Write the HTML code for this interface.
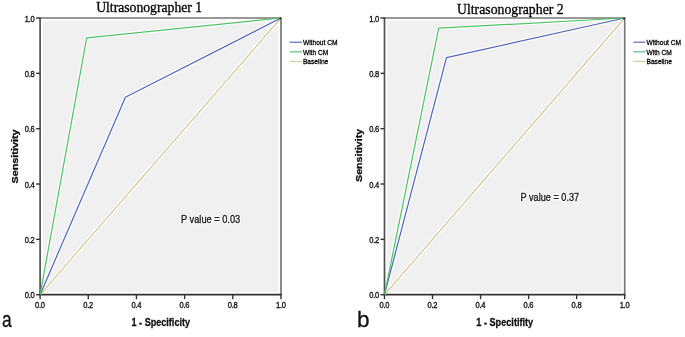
<!DOCTYPE html>
<html><head><meta charset="utf-8"><style>
html,body{margin:0;padding:0;background:#fff;}
body{width:685px;height:337px;overflow:hidden;position:relative;}
svg{display:block;position:absolute;left:0;top:0;}
#m{filter:blur(0.35px);}
#t{filter:blur(0.15px);}
text{font-family:"Liberation Sans",sans-serif;}
.tk{fill:#111;stroke:#111;stroke-width:0.35px;}
.ti{font-family:"Liberation Serif",serif;fill:#000;stroke:#000;stroke-width:0.3px;}
.ax{font-weight:bold;fill:#111;stroke:#111;stroke-width:0.3px;}
.pv{fill:#222;stroke:#222;stroke-width:0.35px;}
.lg{fill:#000;stroke:#000;stroke-width:0.3px;}
.let{fill:#111;stroke:#111;stroke-width:0.3px;}
.pvh{fill:#fff;stroke:#fff;stroke-width:2.6px;stroke-linejoin:round;opacity:1.0;}
</style></head><body>
<svg id="m" width="685" height="337" viewBox="0 0 685 337">
<rect width="685" height="337" fill="#fff"/>
<rect x="42.800000000000004" y="20.7" width="235.50" height="271.30" fill="#f0f0f0"/>
<polyline points="40.1,294.7 281.0,18.0" fill="none" stroke="#fff" stroke-opacity="0.9" stroke-width="3.7" stroke-linejoin="round"/>
<polyline points="40.1,294.7 125.4,97.3 281.0,18.0" fill="none" stroke="#fff" stroke-opacity="0.9" stroke-width="3.65" stroke-linejoin="round"/>
<polyline points="40.1,294.7 86.7,37.8 281.0,18.0" fill="none" stroke="#fff" stroke-opacity="0.9" stroke-width="3.65" stroke-linejoin="round"/>
<line x1="40.1" y1="18.0" x2="281.0" y2="18.0" stroke="#777" stroke-width="1.7"/>
<line x1="281.0" y1="17.15" x2="281.0" y2="294.7" stroke="#777" stroke-width="1.7"/>
<line x1="39.25" y1="294.7" x2="281.85" y2="294.7" stroke="#333" stroke-width="1.7"/>
<line x1="40.1" y1="17.15" x2="40.1" y2="294.7" stroke="#505050" stroke-width="1.7"/>
<polyline points="40.1,294.7 281.0,18.0" fill="none" stroke="#d3ce97" stroke-width="1.3" stroke-linejoin="round"/>
<polyline points="40.1,294.7 125.4,97.3 281.0,18.0" fill="none" stroke="#5068bc" stroke-width="1.25" stroke-linejoin="round"/>
<polyline points="40.1,294.7 86.7,37.8 281.0,18.0" fill="none" stroke="#50c266" stroke-width="1.25" stroke-linejoin="round"/>
<circle cx="280.4" cy="18.4" r="1.0" fill="#1a2a1a"/>
<line x1="36.1" y1="294.70" x2="40.1" y2="294.70" stroke="#333" stroke-width="1.4"/>
<line x1="40.10" y1="294.7" x2="40.10" y2="299.2" stroke="#333" stroke-width="1.4"/>
<line x1="36.1" y1="239.36" x2="40.1" y2="239.36" stroke="#333" stroke-width="1.4"/>
<line x1="88.28" y1="294.7" x2="88.28" y2="299.2" stroke="#333" stroke-width="1.4"/>
<line x1="36.1" y1="184.02" x2="40.1" y2="184.02" stroke="#333" stroke-width="1.4"/>
<line x1="136.46" y1="294.7" x2="136.46" y2="299.2" stroke="#333" stroke-width="1.4"/>
<line x1="36.1" y1="128.68" x2="40.1" y2="128.68" stroke="#333" stroke-width="1.4"/>
<line x1="184.64" y1="294.7" x2="184.64" y2="299.2" stroke="#333" stroke-width="1.4"/>
<line x1="36.1" y1="73.34" x2="40.1" y2="73.34" stroke="#333" stroke-width="1.4"/>
<line x1="232.82" y1="294.7" x2="232.82" y2="299.2" stroke="#333" stroke-width="1.4"/>
<line x1="36.1" y1="18.00" x2="40.1" y2="18.00" stroke="#333" stroke-width="1.4"/>
<line x1="281.00" y1="294.7" x2="281.00" y2="299.2" stroke="#333" stroke-width="1.4"/>
<line x1="289.7" y1="42.20" x2="302.0" y2="42.20" stroke="#5068bc" stroke-width="1.15"/>
<line x1="289.7" y1="51.80" x2="302.0" y2="51.80" stroke="#50c266" stroke-width="1.15"/>
<line x1="289.7" y1="61.40" x2="302.0" y2="61.40" stroke="#d3ce97" stroke-width="1.15"/>
<rect x="387.2" y="20.7" width="234.80" height="271.30" fill="#f0f0f0"/>
<polyline points="384.5,294.7 624.7,18.0" fill="none" stroke="#fff" stroke-opacity="0.9" stroke-width="3.7" stroke-linejoin="round"/>
<polyline points="384.5,294.7 446.5,57.6 624.7,18.0" fill="none" stroke="#fff" stroke-opacity="0.9" stroke-width="3.65" stroke-linejoin="round"/>
<polyline points="384.5,294.7 438.7,28.2 624.7,18.0" fill="none" stroke="#fff" stroke-opacity="0.9" stroke-width="3.65" stroke-linejoin="round"/>
<line x1="384.5" y1="18.0" x2="624.7" y2="18.0" stroke="#777" stroke-width="1.7"/>
<line x1="624.7" y1="17.15" x2="624.7" y2="294.7" stroke="#777" stroke-width="1.7"/>
<line x1="383.65" y1="294.7" x2="625.5500000000001" y2="294.7" stroke="#333" stroke-width="1.7"/>
<line x1="384.5" y1="17.15" x2="384.5" y2="294.7" stroke="#505050" stroke-width="1.7"/>
<polyline points="384.5,294.7 624.7,18.0" fill="none" stroke="#d3ce97" stroke-width="1.3" stroke-linejoin="round"/>
<polyline points="384.5,294.7 446.5,57.6 624.7,18.0" fill="none" stroke="#5068bc" stroke-width="1.25" stroke-linejoin="round"/>
<polyline points="384.5,294.7 438.7,28.2 624.7,18.0" fill="none" stroke="#50c266" stroke-width="1.25" stroke-linejoin="round"/>
<circle cx="624.1" cy="18.4" r="1.0" fill="#1a2a1a"/>
<line x1="380.5" y1="294.70" x2="384.5" y2="294.70" stroke="#333" stroke-width="1.4"/>
<line x1="384.50" y1="294.7" x2="384.50" y2="299.2" stroke="#333" stroke-width="1.4"/>
<line x1="380.5" y1="239.36" x2="384.5" y2="239.36" stroke="#333" stroke-width="1.4"/>
<line x1="432.54" y1="294.7" x2="432.54" y2="299.2" stroke="#333" stroke-width="1.4"/>
<line x1="380.5" y1="184.02" x2="384.5" y2="184.02" stroke="#333" stroke-width="1.4"/>
<line x1="480.58" y1="294.7" x2="480.58" y2="299.2" stroke="#333" stroke-width="1.4"/>
<line x1="380.5" y1="128.68" x2="384.5" y2="128.68" stroke="#333" stroke-width="1.4"/>
<line x1="528.62" y1="294.7" x2="528.62" y2="299.2" stroke="#333" stroke-width="1.4"/>
<line x1="380.5" y1="73.34" x2="384.5" y2="73.34" stroke="#333" stroke-width="1.4"/>
<line x1="576.66" y1="294.7" x2="576.66" y2="299.2" stroke="#333" stroke-width="1.4"/>
<line x1="380.5" y1="18.00" x2="384.5" y2="18.00" stroke="#333" stroke-width="1.4"/>
<line x1="624.70" y1="294.7" x2="624.70" y2="299.2" stroke="#333" stroke-width="1.4"/>
<line x1="633.3" y1="42.20" x2="645.5999999999999" y2="42.20" stroke="#5068bc" stroke-width="1.15"/>
<line x1="633.3" y1="51.80" x2="645.5999999999999" y2="51.80" stroke="#50c266" stroke-width="1.15"/>
<line x1="633.3" y1="61.40" x2="645.5999999999999" y2="61.40" stroke="#d3ce97" stroke-width="1.15"/>
<text transform="translate(34.55,298.20) scale(0.84,1)" class="tk" text-anchor="end" style="font-size:9.0px;letter-spacing:-0.3px">0.0</text>
<text transform="translate(39.90,307.60) scale(0.84,1)" class="tk" text-anchor="middle" style="font-size:9.0px;letter-spacing:-0.3px">0.0</text>
<text transform="translate(34.55,242.86) scale(0.84,1)" class="tk" text-anchor="end" style="font-size:9.0px;letter-spacing:-0.3px">0.2</text>
<text transform="translate(88.08,307.60) scale(0.84,1)" class="tk" text-anchor="middle" style="font-size:9.0px;letter-spacing:-0.3px">0.2</text>
<text transform="translate(34.55,187.52) scale(0.84,1)" class="tk" text-anchor="end" style="font-size:9.0px;letter-spacing:-0.3px">0.4</text>
<text transform="translate(136.26,307.60) scale(0.84,1)" class="tk" text-anchor="middle" style="font-size:9.0px;letter-spacing:-0.3px">0.4</text>
<text transform="translate(34.55,132.18) scale(0.84,1)" class="tk" text-anchor="end" style="font-size:9.0px;letter-spacing:-0.3px">0.6</text>
<text transform="translate(184.44,307.60) scale(0.84,1)" class="tk" text-anchor="middle" style="font-size:9.0px;letter-spacing:-0.3px">0.6</text>
<text transform="translate(34.55,76.84) scale(0.84,1)" class="tk" text-anchor="end" style="font-size:9.0px;letter-spacing:-0.3px">0.8</text>
<text transform="translate(232.62,307.60) scale(0.84,1)" class="tk" text-anchor="middle" style="font-size:9.0px;letter-spacing:-0.3px">0.8</text>
<text transform="translate(34.55,21.50) scale(0.84,1)" class="tk" text-anchor="end" style="font-size:9.0px;letter-spacing:-0.3px">1.0</text>
<text transform="translate(280.80,307.60) scale(0.84,1)" class="tk" text-anchor="middle" style="font-size:9.0px;letter-spacing:-0.3px">1.0</text>
<text transform="translate(302.90,45.10) scale(0.819,1)" class="lg" style="font-size:8.1px">Without CM</text>
<text transform="translate(302.90,54.70) scale(0.819,1)" class="lg" style="font-size:8.1px">With CM</text>
<text transform="translate(302.90,64.30) scale(0.819,1)" class="lg" style="font-size:8.1px">Baseline</text>
<text transform="translate(378.95,298.20) scale(0.84,1)" class="tk" text-anchor="end" style="font-size:9.0px;letter-spacing:-0.3px">0.0</text>
<text transform="translate(384.30,307.60) scale(0.84,1)" class="tk" text-anchor="middle" style="font-size:9.0px;letter-spacing:-0.3px">0.0</text>
<text transform="translate(378.95,242.86) scale(0.84,1)" class="tk" text-anchor="end" style="font-size:9.0px;letter-spacing:-0.3px">0.2</text>
<text transform="translate(432.34,307.60) scale(0.84,1)" class="tk" text-anchor="middle" style="font-size:9.0px;letter-spacing:-0.3px">0.2</text>
<text transform="translate(378.95,187.52) scale(0.84,1)" class="tk" text-anchor="end" style="font-size:9.0px;letter-spacing:-0.3px">0.4</text>
<text transform="translate(480.38,307.60) scale(0.84,1)" class="tk" text-anchor="middle" style="font-size:9.0px;letter-spacing:-0.3px">0.4</text>
<text transform="translate(378.95,132.18) scale(0.84,1)" class="tk" text-anchor="end" style="font-size:9.0px;letter-spacing:-0.3px">0.6</text>
<text transform="translate(528.42,307.60) scale(0.84,1)" class="tk" text-anchor="middle" style="font-size:9.0px;letter-spacing:-0.3px">0.6</text>
<text transform="translate(378.95,76.84) scale(0.84,1)" class="tk" text-anchor="end" style="font-size:9.0px;letter-spacing:-0.3px">0.8</text>
<text transform="translate(576.46,307.60) scale(0.84,1)" class="tk" text-anchor="middle" style="font-size:9.0px;letter-spacing:-0.3px">0.8</text>
<text transform="translate(378.95,21.50) scale(0.84,1)" class="tk" text-anchor="end" style="font-size:9.0px;letter-spacing:-0.3px">1.0</text>
<text transform="translate(624.50,307.60) scale(0.84,1)" class="tk" text-anchor="middle" style="font-size:9.0px;letter-spacing:-0.3px">1.0</text>
<text transform="translate(646.50,45.10) scale(0.819,1)" class="lg" style="font-size:8.1px">Without CM</text>
<text transform="translate(646.50,54.70) scale(0.819,1)" class="lg" style="font-size:8.1px">With CM</text>
<text transform="translate(646.50,64.30) scale(0.819,1)" class="lg" style="font-size:8.1px">Baseline</text>
<text transform="translate(18.40,183.60) rotate(-90) scale(1.1553,1)" class="ax" style="font-size:9.4px">Sensitivity</text>
<text transform="translate(362.25,181.90) rotate(-90) scale(1.1295,1)" class="ax" style="font-size:9.4px">Sensitivity</text>
<text transform="translate(131.52,325.56) scale(0.8413,1)" class="ax" style="font-size:10.8px">1 - Specificity</text>
<text transform="translate(476.25,325.61) scale(0.8486,1)" class="ax" style="font-size:10.8px">1 - Specitifity</text>
<text transform="translate(181.01,223.07) scale(0.9258,1)" class="pvh" style="font-size:10px">P value = 0.03</text>
<text transform="translate(181.01,223.07) scale(0.9258,1)" class="pv" style="font-size:10px">P value = 0.03</text>
<text transform="translate(520.58,200.72) scale(0.9142,1)" class="pvh" style="font-size:10px">P value = 0.37</text>
<text transform="translate(520.58,200.72) scale(0.9142,1)" class="pv" style="font-size:10px">P value = 0.37</text>
<text transform="translate(1.95,326.80) scale(0.7934,1)" class="let" style="font-size:22px">a</text>
<text transform="translate(357.01,326.73) scale(1.0248,1)" class="let" style="font-size:22px">b</text>
</svg>
<svg id="t" width="685" height="337" viewBox="0 0 685 337">
<text transform="translate(96.17,11.55) scale(0.9784,1)" class="ti" style="font-size:14px">Ultrasonographer 1</text>
<text transform="translate(456.99,14.33) scale(0.9845,1)" class="ti" style="font-size:14px">Ultrasonographer 2</text>
</svg>
</body></html>
